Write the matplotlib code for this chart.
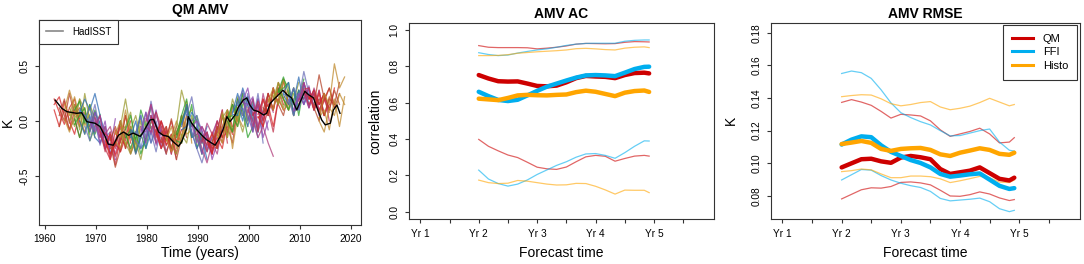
import matplotlib
matplotlib.use("Agg")
import matplotlib.pyplot as plt
from matplotlib.lines import Line2D

plt.rcParams["font.family"] = ["Liberation Sans", "DejaVu Sans"]

# ---- panel 1: QM AMV hindcasts (K) ----
hadisst_years = [1962.0, 1963.3, 1964.3, 1966.2, 1967.2, 1968.2, 1969.8, 1970.8, 1971.8,
                 1972.4, 1973.4, 1974.4, 1975.4, 1976.4, 1977.3, 1978.7, 1979.3, 1980.6,
                 1981.3, 1982.3, 1983.2, 1984.2, 1985.2, 1986.2, 1986.8, 1987.8, 1988.1,
                 1988.8, 1989.8, 1990.8, 1991.7, 1992.7, 1993.4, 1994.4, 1995.0, 1995.7,
                 1996.3, 1997.3, 1998.0, 1998.9, 1999.6, 2000.2, 2000.9, 2001.9, 2002.9,
                 2003.5, 2004.2, 2005.2, 2006.1, 2006.7, 2007.5, 2008.4, 2009.4, 2010.1,
                 2011.0, 2011.7, 2012.7, 2013.3, 2014.3, 2015.0, 2016.0, 2016.6, 2017.3,
                 2017.9]
hadisst_values = [0.19, 0.115, 0.085, 0.07, 0.075, -0.006, -0.02, -0.05, -0.14,
                  -0.21, -0.22, -0.13, -0.1, -0.13, -0.11, -0.14, -0.1, 0.01,
                  0.015, -0.1, -0.13, -0.14, -0.19, -0.23, -0.19, -0.07, 0.04,
                  -0.02, -0.08, -0.13, -0.17, -0.2, -0.22, -0.14, -0.07, 0.04,
                  -0.006, 0.055, 0.13, 0.19, 0.21, 0.145, 0.1, 0.085, 0.055,
                  0.07, 0.16, 0.21, 0.25, 0.28, 0.24, 0.21, 0.1, 0.175,
                  0.27, 0.24, 0.21, 0.13, 0.01, -0.035, -0.02, 0.1, 0.145,
                  0.07]

start_years = list(range(1962, 2015))
lead_years = [-0.2, 0.8, 1.8, 2.8, 3.8, 4.8]

# member values in hundredths of K, one row per start year
member_a = [
    [15, 22, 5, -8, 10, 2], [5, 20, -2, 15, 0, -10], [10, 28, 12, -5, 8, -12],
    [8, -5, 20, 10, -10, 5], [2, -15, 5, -5, 10, -8], [8, 20, 10, 25, 5, -12],
    [2, 12, -8, 5, -15, -10], [-5, 8, -15, 0, -30, -20], [0, -15, -5, -32, -18, 0],
    [-10, -25, -35, -20, -28, -5], [-18, -30, -20, -5, -25, -10], [-20, -42, -25, -10, -30, -15],
    [-12, 0, -22, -8, -30, -15], [-5, 20, -8, 5, -15, 0], [-12, -25, -10, -30, -15, -5],
    [-10, -30, -15, -5, -20, -8], [-12, 5, -15, 18, -5, -10], [-5, -20, 5, -5, -25, -10],
    [0, 15, -5, -20, -10, -30], [3, -10, -25, -8, -30, -12], [-8, -20, -5, -28, -10, -20],
    [-12, -5, -25, -10, 0, -15], [-15, -28, -10, -20, 5, 10], [-18, -5, 28, 10, -5, 2],
    [-15, 0, 12, -5, 5, -20], [-5, 15, -10, -25, -15, -35], [5, 22, -5, -15, -10, -25],
    [-2, -15, -30, -10, -35, -20], [-8, -25, -38, -20, -30, -5], [-15, -28, -10, -25, -5, 5],
    [-18, -30, -5, -15, 10, -5], [-18, -5, -20, 10, -10, 5], [-12, -20, 5, -10, 20, 5],
    [5, -15, 15, 0, 20, -5], [2, 15, 5, 25, 0, 18], [8, 25, 10, -5, 15, -10],
    [15, 5, 25, -5, 15, -20], [18, 30, 5, 15, -15, 0], [12, -5, 15, 0, 20, 8],
    [5, 18, 0, 25, 10, 30], [4, -5, 25, 10, 30, 15], [10, 25, 10, 35, 20, 10],
    [18, 30, 15, 38, 10, 20], [20, 35, 20, 10, 25, 15], [27, 40, 25, 15, 28, 20],
    [24, 15, 30, 10, 35, 15], [18, 30, 20, 45, 25, 15], [11, 25, 15, 32, 10, 20],
    [18, 35, 20, 25, 10, 20], [27, 15, 25, 10, 20, 8], [20, 28, 15, 25, 10, 30],
    [15, 42, 20, 30, 15, 35], [2, 25, 15, 52, 30, 40],
]
member_b = [
    [10, -5, 18, 0, -12, 8], [12, 0, 25, 5, 12, 6], [2, -10, 5, 20, -4, 6],
    [0, 15, -8, 25, 0, -15], [10, 18, -2, 15, -12, 0], [0, -12, 5, -15, -20, -5],
    [-5, -18, 0, -22, -5, -28], [0, -10, 5, -25, -12, -35], [-5, 5, -25, -15, -30, -12],
    [-5, -12, -15, -40, -15, -22], [-22, -12, -32, -18, 5, -20], [-18, -5, -20, 5, -12, -28],
    [-18, -25, -5, -28, -10, 2], [-10, -20, -30, -18, -35, -12], [-8, 5, -18, 10, -5, 12],
    [-15, 0, -25, -18, 5, -20], [-18, -25, -5, -10, -28, -5], [-10, 8, -12, 10, -15, -30],
    [-5, -10, 5, -8, -28, -15], [-2, 8, -5, -22, -15, -35], [-12, 0, -22, -12, -30, 5],
    [-15, -30, -12, -35, -15, 5], [-18, -5, -25, 5, -12, -8], [-22, -30, -12, -20, 5, -18],
    [-18, -20, -5, 15, -25, -10], [-8, -5, 8, 0, -30, -12], [2, -10, -25, -38, -20, -30],
    [-5, 0, -8, -25, -15, 0], [-12, -5, -15, -30, -10, 10], [-18, -10, -30, 0, -15, -10],
    [-20, -12, -25, 5, -10, 15], [-22, -25, 5, -12, 15, 0], [-15, 8, -15, 15, -5, 25],
    [3, 10, -10, 22, 5, 15], [0, -10, 20, 10, -15, -5], [6, 5, 30, 15, -10, 20],
    [17, 28, 0, 20, -10, 5], [20, 5, -10, 20, 5, 25], [8, 20, -8, 25, 5, 30],
    [8, -10, 20, 5, 28, 15], [6, 20, 5, 30, 15, 35], [12, 5, 30, 15, 5, 25],
    [20, 10, 35, 20, 28, 5], [23, 15, 38, 30, 5, 28], [29, 20, 10, 30, 5, 32],
    [26, 35, 5, 28, 20, 30], [20, 5, 25, 15, 30, 10], [9, 12, 35, 20, 28, 5],
    [20, 20, 30, 10, 28, 5], [29, 30, 10, 28, 5, 15], [23, 10, 25, 5, 20, 15],
    [12, 0, 25, 10, 28, 15], [0, -10, 12, 5, 25, 15],
]
member_c = [
    [20, 8, -3, 12, 20, -5], [-5, 10, -8, 2, -15, 3], [15, 5, 22, 3, 12, -8],
    [12, 3, 8, -12, 15, 2], [-3, 5, 12, -18, -5, 6], [10, 5, -10, 8, -2, -25],
    [5, -2, 15, -10, -25, -15], [-8, 3, -20, -10, -25, 2], [3, -10, -12, -5, -22, -25],
    [-8, -28, -10, -25, 0, -18], [-15, -35, -8, -28, -15, 0], [-25, -22, 0, -25, -5, -20],
    [-10, -15, 10, -15, -25, -5], [-8, -5, 8, -22, 0, -20], [-15, -8, -28, -12, -25, 0],
    [-8, -12, 5, -25, -10, 8], [-10, -15, 8, -20, 0, -22], [-8, -10, 15, -22, -8, -18],
    [2, -5, -20, 0, -15, -25], [5, -15, 0, -12, -25, -5], [-10, -25, -15, 0, -20, -8],
    [-10, -18, 2, -20, 5, -8], [-12, -15, 0, -15, 18, -20], [-15, -10, 0, 15, -15, -8],
    [-12, 5, 20, -15, -12, -30], [-3, 10, -15, -5, -20, -5], [6, 0, 5, -10, -28, -15],
    [-3, -20, -5, -15, -28, -10], [-10, -20, -2, -12, 0, -15], [-14, -22, -20, -8, 10, -20],
    [-16, -25, -15, -25, 0, -12], [-19, -10, -10, -5, -20, 12], [-13, -5, 10, -25, 5, -5],
    [6, -5, 20, 5, -10, 10], [3, 5, -5, 15, 22, 0], [7, 18, 0, 22, 5, -15],
    [14, 10, 15, 0, 25, -5], [17, 15, 22, -5, 10, -8], [10, 0, -15, -5, -20, -32],
    [6, 10, -5, 10, -10, 20], [3, 8, 15, -5, 20, 10], [8, 15, 20, 25, 38, 15],
    [17, 25, 22, 10, 15, 30], [21, 28, 12, 25, 18, 35], [26, 30, 35, 5, 22, 38],
    [25, 22, 18, 40, 15, 25], [19, 15, 10, 35, 12, 28], [10, 20, 25, 12, 25, 15],
    [19, 28, 12, 30, 15, 25], [28, 20, 22, 15, 25, 0], [22, 20, 8, 18, 30, 12],
    [14, 20, 5, 22, 12, 25], [3, 10, -8, 20, -5, 22],
]
start_palette = ["#D62728", "#B5442A", "#C08A2E", "#9A9A30", "#2CA02C",
                 "#2F6DB5", "#6B6FB8", "#8E44AD", "#B03A7A", "#C0304A"]

# ---- panels 2 and 3: skill vs forecast month ----
forecast_months = [13, 15, 17, 19, 21, 23, 25, 27, 29, 31, 33, 35, 37, 39, 41, 43, 45, 47, 48]

ac_qm = [.752, .733, .718, .716, .717, .705, .692, .690, .694, .712, .735, .747, .744, .742, .735, .752, .763, .765, .761]
ac_ffi = [.66, .636, .615, .609, .616, .64, .665, .688, .705, .722, .738, .75, .752, .75, .746, .765, .785, .797, .798]
ac_histo = [.622, .618, .614, .626, .64, .643, .641, .64, .643, .645, .658, .666, .66, .648, .636, .655, .664, .667, .659]
ac_qm_hi = [.914, .905, .903, .903, .903, .902, .896, .9, .905, .912, .922, .926, .925, .924, .925, .932, .936, .935, .934]
ac_ffi_hi = [.875, .865, .859, .862, .873, .882, .89, .896, .905, .915, .922, .926, .927, .927, .927, .938, .943, .945, .945]
ac_histo_hi = [.859, .859, .86, .864, .872, .876, .88, .883, .886, .89, .897, .899, .896, .892, .89, .9, .905, .907, .903]
ac_qm_lo = [.398, .36, .335, .312, .298, .272, .245, .236, .233, .246, .275, .302, .31, .305, .278, .293, .306, .31, .306]
ac_ffi_lo = [.229, .18, .155, .141, .152, .175, .205, .23, .255, .275, .3, .318, .32, .31, .294, .325, .36, .39, .389]
ac_histo_lo = [.174, .16, .155, .157, .172, .168, .16, .152, .147, .148, .156, .155, .14, .12, .097, .119, .118, .118, .105]

rmse_qm = [.0975, .100, .1025, .1028, .1012, .1003, .1035, .1045, .1037, .1025, .0965, .0935, .0945, .0955, .0975, .094, .0905, .0895, .0912]
rmse_ffi = [.1115, .1145, .1165, .116, .111, .107, .1045, .102, .1002, .0975, .0935, .0918, .0925, .0933, .0938, .09, .0862, .0843, .0848]
rmse_histo = [.1118, .1127, .1137, .1125, .1088, .1076, .1088, .1092, .1094, .1082, .1055, .1045, .1065, .1078, .1092, .1082, .1058, .1052, .1065]
rmse_qm_hi = [.1373, .139, .1375, .1355, .1318, .1277, .130, .1296, .129, .126, .1205, .1165, .118, .1195, .1215, .118, .1125, .113, .1157]
rmse_ffi_hi = [.155, .1565, .1555, .152, .145, .137, .131, .128, .1255, .1235, .12, .1168, .117, .1185, .12, .121, .113, .108, .1075]
rmse_histo_hi = [.1408, .1415, .142, .1418, .1395, .1365, .1352, .136, .1372, .1378, .1345, .1328, .1337, .135, .1372, .1398, .1375, .1352, .136]
rmse_qm_lo = [.0782, .081, .0838, .085, .0848, .0858, .0883, .0886, .088, .0868, .0835, .08, .0798, .0808, .0825, .0812, .0788, .0772, .0778]
rmse_ffi_lo = [.0898, .093, .0962, .0958, .0925, .0898, .0878, .0863, .0852, .0828, .0785, .077, .0775, .078, .0787, .0765, .0722, .0704, .0712]
rmse_histo_lo = [.0949, .0955, .0965, .096, .0935, .0912, .0912, .0922, .0922, .0918, .0905, .0882, .0893, .0906, .092, .0912, .0885, .0882, .0898]

method_names = ["QM", "FFI", "Histo"]
method_colors = ["#CD0000", "#00AEEF", "#FFA500"]

yr_ticks = list(range(1, 56, 6))
yr_labels = ["Yr 1", "", "Yr 2", "", "Yr 3", "", "Yr 4", "", "Yr 5", ""]

TICK_FS = 7.3
LABEL_FS = 10


def style_axes(ax):
    for s in ax.spines.values():
        s.set_linewidth(0.8)
        s.set_color("#333333")
    ax.tick_params(direction="out", length=3.2, width=0.8, color="#333333",
                   labelsize=TICK_FS, pad=3)
    ax.tick_params(axis="y", pad=3.5)
    for lab in ax.get_yticklabels():
        lab.set_rotation(90)
        lab.set_va("center")
        lab.set_ha("right")


fig = plt.figure(figsize=(10.84, 2.64), dpi=100)

# panel 1
ax1 = fig.add_axes([39 / 1084, 39 / 264, 322 / 1084, 205 / 264])
for i, s in enumerate(start_years):
    col = start_palette[i % len(start_palette)]
    xs = [s + t for t in lead_years]
    for member in (member_a, member_b, member_c):
        ax1.plot(xs, [v / 100 for v in member[i]], color=col, lw=0.9, alpha=0.75)
ax1.plot(hadisst_years, hadisst_values, color="black", lw=1.0)
ax1.set_xlim(1958.82, 2022.02)
ax1.set_ylim(-0.945, 0.918)
ax1.set_xticks(range(1960, 2021, 10))
ax1.set_yticks([-0.5, 0.0, 0.5])
ax1.set_yticklabels(["-0.5", "0.0", "0.5"])
style_axes(ax1)
ax1.set_title("QM AMV", fontsize=10, fontweight="bold", pad=4.5)
ax1.set_xlabel("Time (years)", fontsize=LABEL_FS)
ax1.set_ylabel("K", fontsize=LABEL_FS)
ax1.xaxis.set_label_coords(0.5, -0.137)
ax1.yaxis.set_label_coords(-0.096, 0.5)
ax1.xaxis.label.set_va("center")
ax1.yaxis.label.set_va("center")
leg1 = ax1.legend([Line2D([], [], color="#888888", lw=1.2)], ["HadISST"],
                  loc="upper left", bbox_to_anchor=(0, 1), borderaxespad=0,
                  fancybox=False, framealpha=1, edgecolor="#333333",
                  fontsize=7, handlelength=1.8, handletextpad=0.9, borderpad=0.7)
leg1.get_frame().set_linewidth(0.8)

# panels 2 and 3
skill_panels = [
    ([409 / 1084, 45 / 264, 305 / 1084, 196.3 / 264], "AMV AC", "correlation",
     [ac_qm, ac_ffi, ac_histo], [ac_qm_hi, ac_ffi_hi, ac_histo_hi], [ac_qm_lo, ac_ffi_lo, ac_histo_lo],
     (-0.04, 1.04), [0.0, 0.2, 0.4, 0.6, 0.8, 1.0], ["0.0", "0.2", "0.4", "0.6", "0.8", "1.0"], -0.111),
    ([771 / 1084, 45 / 264, 309 / 1084, 196.3 / 264], "AMV RMSE", "K",
     [rmse_qm, rmse_ffi, rmse_histo], [rmse_qm_hi, rmse_ffi_hi, rmse_histo_hi], [rmse_qm_lo, rmse_ffi_lo, rmse_histo_lo],
     (0.0659, 0.1861), [0.08, 0.10, 0.12, 0.14, 0.16, 0.18], ["0.08", "0.10", "0.12", "0.14", "0.16", "0.18"], -0.129),
]

for rect, title, ylabel, mid, hi, lo, ylim, yticks, ylabels, ylab_x in skill_panels:
    ax = fig.add_axes(rect)
    for series in (hi, lo):
        for vals, col in zip(series, method_colors):
            ax.plot(forecast_months, vals, color=col, lw=0.9, alpha=0.6)
    for vals, col in zip(mid, method_colors):
        ax.plot(forecast_months, vals, color=col, lw=3.2, solid_capstyle="round")
    ax.set_xlim(-1.32, 61.32)
    ax.set_ylim(*ylim)
    ax.set_xticks(yr_ticks)
    ax.set_xticklabels(yr_labels)
    ax.set_yticks(yticks)
    ax.set_yticklabels(ylabels)
    style_axes(ax)
    ax.tick_params(axis="x", pad=4)
    ax.set_title(title, fontsize=10, fontweight="bold", pad=3.5)
    ax.set_xlabel("Forecast time", fontsize=LABEL_FS)
    ax.set_ylabel(ylabel, fontsize=LABEL_FS)
    ax.xaxis.set_label_coords(0.5, -0.173)
    ax.yaxis.set_label_coords(ylab_x, 0.5)
    ax.xaxis.label.set_va("center")
    ax.yaxis.label.set_va("center")
    if title == "AMV RMSE":
        handles = [Line2D([], [], color=c, lw=2.2) for c in method_colors]
        leg = ax.legend(handles, method_names, loc="upper right",
                        bbox_to_anchor=(0.99, 0.988), borderaxespad=0,
                        fancybox=False, framealpha=1, edgecolor="#333333",
                        fontsize=8, handlelength=1.85, handletextpad=0.9,
                        borderpad=0.8, labelspacing=0.3)
        leg.get_frame().set_linewidth(0.8)

fig.savefig("out.png", dpi=100)
